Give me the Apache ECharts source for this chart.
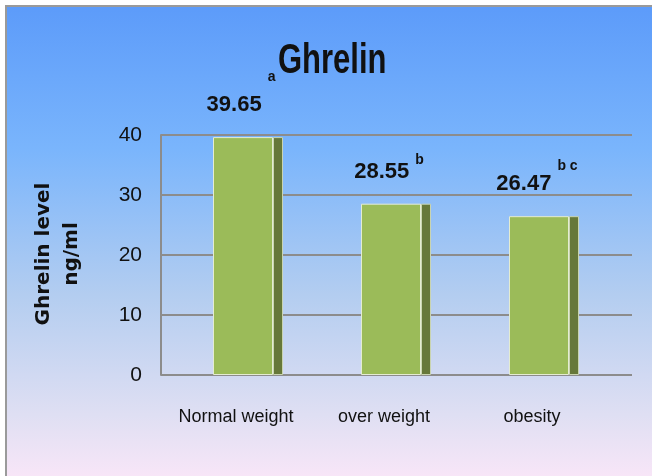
<!DOCTYPE html>
<html>
<head>
<meta charset="utf-8">
<script src="https://cdn.jsdelivr.net/npm/echarts@6.0.0/dist/echarts.min.js"></script>
<style>
  html, body { margin: 0; padding: 0; background: #fff; }
  #chart { width: 652px; height: 476px; }
</style>
</head>
<body>
<div id="chart"></div>
<script>
// values
const categories = ['Normal weight', 'over weight', 'obesity'];
const ghrelin = [39.65, 28.55, 26.47];
const letters = ['a', 'b', 'b c'];
const yMin = 0, yMax = 40, yStep = 10;

// how far each superscript sits above its number
const supRaise = [32, 16, 22];

const sans = '"Liberation Sans", Arial, sans-serif';

const rich = {
    n: { fontFamily: sans, fontWeight: 'bold', fontSize: 22, lineHeight: 26, color: '#111', verticalAlign: 'bottom' }
};
supRaise.forEach(function (r, i) {
    rich['s' + i] = {
        fontFamily: sans, fontWeight: 'bold', fontSize: 14, color: '#111',
        verticalAlign: 'bottom', padding: [0, 0, r, 6]
    };
});

const chart = echarts.init(document.getElementById('chart'));

chart.setOption({
    animation: false,
    graphic: [
        {
            type: 'rect',
            z: -100,
            silent: true,
            shape: { x: 6, y: 6, width: 660, height: 480 },
            style: {
                fill: new echarts.graphic.LinearGradient(0, 0, 0, 1, [
                    { offset: 0, color: '#5C9BFA' },
                    { offset: 0.3, color: '#7AB5FC' },
                    { offset: 0.6, color: '#B3CDF0' },
                    { offset: 0.85, color: '#DFDFF3' },
                    { offset: 1, color: '#FCE7F8' }
                ]),
                stroke: '#9a9a9a',
                lineWidth: 2
            }
        },
        {
            // chart title, drawn tall like the condensed original
            type: 'text',
            x: 278,
            y: 41,
            scaleY: 1.35,
            style: {
                text: 'Ghrelin',
                fontFamily: sans,
                fontWeight: 'bold',
                fontSize: 31,
                fill: '#111',
                align: 'left',
                verticalAlign: 'top'
            }
        },
        {
            type: 'text',
            x: 58,
            y: 254,
            rotation: Math.PI / 2,
            style: {
                text: 'Ghrelin level\nng/ml',
                fontFamily: '"DejaVu Sans", sans-serif',
                fontWeight: 'bold',
                fontSize: 20,
                lineHeight: 28,
                fill: '#111',
                align: 'center',
                verticalAlign: 'middle'
            }
        }
    ],
    grid: [
        { left: 174, right: 34, top: 135, bottom: 101 },
        { left: 161, right: 20, top: 135, bottom: 101 }
    ],
    xAxis: [
        {
            type: 'category',
            gridIndex: 0,
            data: categories,
            axisLine: { show: false },
            axisTick: { show: false },
            axisLabel: {
                interval: 0,
                margin: 33,
                padding: [0, 24, 0, 0],
                fontFamily: sans,
                fontSize: 18,
                color: '#111'
            }
        },
        { type: 'value', gridIndex: 1, min: 0, max: 1, show: false }
    ],
    yAxis: [
        { type: 'value', gridIndex: 0, min: yMin, max: yMax, interval: yStep, show: false },
        {
            type: 'value',
            gridIndex: 1,
            min: yMin,
            max: yMax,
            interval: yStep,
            axisLine: { show: true, lineStyle: { color: '#8c8c8c', width: 2 } },
            axisTick: { show: false },
            splitLine: { lineStyle: { color: '#8c8c8c', width: 2 } },
            axisLabel: { margin: 19, fontFamily: sans, fontSize: 21, color: '#111' }
        }
    ],
    series: [
        {
            type: 'bar',
            xAxisIndex: 0,
            yAxisIndex: 0,
            data: ghrelin,
            barWidth: 60,
            barGap: '0%',
            itemStyle: { color: '#9BBB59', borderColor: '#E4ECD2', borderWidth: 1 },
            label: {
                show: true,
                position: 'top',
                distance: 21,
                offset: [-2, 0],
                formatter: function (p) {
                    return '{n|' + p.value.toFixed(2) + '}{s' + p.dataIndex + '|' + letters[p.dataIndex] + '}';
                },
                rich: rich
            }
        },
        {
            type: 'bar',
            xAxisIndex: 0,
            yAxisIndex: 0,
            data: ghrelin,
            barWidth: 10,
            barGap: '0%',
            itemStyle: { color: '#66783A', borderColor: '#C9D4B0', borderWidth: 1 }
        }
    ]
});
</script>
</body>
</html>
